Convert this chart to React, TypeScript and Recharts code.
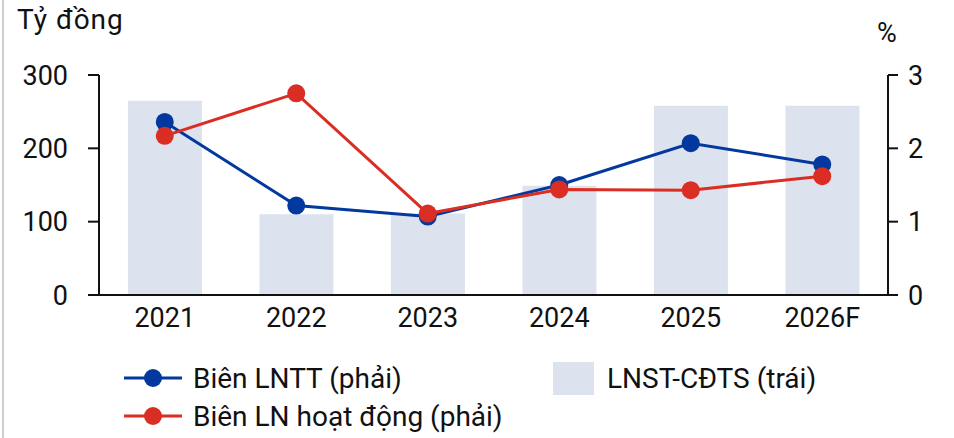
import React from "react";
import { ComposedChart, Bar, Line, XAxis, YAxis } from "recharts";

const categories = ["2021", "2022", "2023", "2024", "2025", "2026F"];
const lnstCdts = [265, 110, 111, 149, 258, 258];
const bienLntt = [2.36, 1.22, 1.07, 1.5, 2.07, 1.78];
const bienLnhd = [2.17, 2.75, 1.11, 1.44, 1.43, 1.62];
const leftTicks = [0, 100, 200, 300];
const rightTicks = [0, 1, 2, 3];

const data = categories.map((c, i) => ({
  name: c,
  lnst: lnstCdts[i],
  lntt: bienLntt[i],
  lnhd: bienLnhd[i],
}));

const BLUE = "#03399E";
const RED = "#DA2D23";
const BAR = "#DDE3EE";
const FONT = "Roboto, 'Noto Sans', sans-serif";
const FS = 27;
const LFS = 28;

const LineMarker = ({ color }: { color: string }) => (
  <svg width={60} height={24} style={{ display: "block" }}>
    <line x1={1} y1={12} x2={59} y2={12} stroke={color} strokeWidth={3} />
    <circle cx={30} cy={12} r={9} fill={color} />
  </svg>
);

export default function App() {
  return (
    <div
      style={{
        position: "absolute",
        left: 0,
        top: 0,
        width: 954,
        height: 438,
        background: "#fff",
        fontFamily: FONT,
        overflow: "hidden",
      }}
    >
      <div style={{ position: "absolute", left: 2, top: 0, width: 2, height: 438, background: "#cfcfcf" }} />
      <ComposedChart
        width={954}
        height={438}
        data={data}
        margin={{ top: 75, right: 6, bottom: 113, left: 29 }}
        barCategoryGap="22%"
      >
        <XAxis
          dataKey="name"
          tickLine={false}
          tickSize={0}
          tickMargin={13}
          height={30}
          axisLine={{ stroke: "#111", strokeWidth: 2 }}
          tick={{ fill: "#111", fontSize: FS, fontFamily: FONT }}
          interval={0}
        />
        <YAxis
          yAxisId="left"
          orientation="left"
          domain={[0, 300]}
          ticks={leftTicks}
          width={70}
          tickSize={11}
          tickMargin={20}
          axisLine={{ stroke: "#111", strokeWidth: 2 }}
          tickLine={{ stroke: "#111", strokeWidth: 2 }}
          tick={{ fill: "#111", fontSize: FS, fontFamily: FONT }}
        />
        <YAxis
          yAxisId="right"
          orientation="right"
          domain={[0, 3]}
          ticks={rightTicks}
          width={60}
          tickSize={10}
          tickMargin={10}
          axisLine={{ stroke: "#111", strokeWidth: 2 }}
          tickLine={{ stroke: "#111", strokeWidth: 2 }}
          tick={{ fill: "#111", fontSize: FS, fontFamily: FONT }}
        />
        <Bar yAxisId="left" dataKey="lnst" fill={BAR} isAnimationActive={false} />
        <Line
          yAxisId="right"
          dataKey="lntt"
          stroke={BLUE}
          strokeWidth={3}
          dot={{ r: 9, fill: BLUE, stroke: BLUE, strokeWidth: 0 }}
          activeDot={false}
          isAnimationActive={false}
        />
        <Line
          yAxisId="right"
          dataKey="lnhd"
          stroke={RED}
          strokeWidth={3}
          dot={{ r: 9, fill: RED, stroke: RED, strokeWidth: 0 }}
          activeDot={false}
          isAnimationActive={false}
        />
      </ComposedChart>
      <div style={{ position: "absolute", left: 17, top: 2, fontSize: LFS, letterSpacing: 1, color: "#111", lineHeight: "36px" }}>
        Tỷ đồng
      </div>
      <div style={{ position: "absolute", left: 877, top: 15, fontSize: FS, color: "#111", lineHeight: "36px" }}>
        %
      </div>
      <div style={{ position: "absolute", left: 123, top: 360, display: "flex", alignItems: "center", height: 36 }}>
        <LineMarker color={BLUE} />
        <span style={{ marginLeft: 10, fontSize: LFS, color: "#111" }}>Biên LNTT (phải)</span>
      </div>
      <div style={{ position: "absolute", left: 123, top: 398, display: "flex", alignItems: "center", height: 36 }}>
        <LineMarker color={RED} />
        <span style={{ marginLeft: 10, fontSize: LFS, color: "#111" }}>Biên LN hoạt động (phải)</span>
      </div>
      <div style={{ position: "absolute", left: 553, top: 360, display: "flex", alignItems: "center", height: 36 }}>
        <div style={{ width: 41, height: 33, background: BAR }} />
        <span style={{ marginLeft: 13, fontSize: LFS, color: "#111" }}>LNST-CĐTS (trái)</span>
      </div>
    </div>
  );
}
